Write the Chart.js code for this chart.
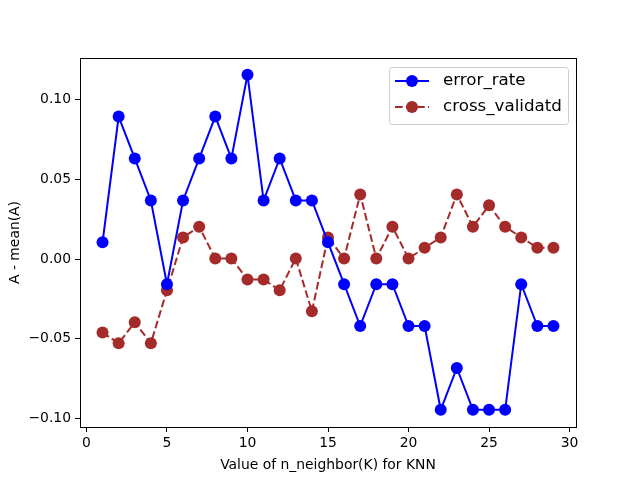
<!DOCTYPE html>
<html>
<head>
<meta charset="utf-8">
<script src="https://cdn.jsdelivr.net/npm/chart.js@4/dist/chart.umd.min.js"></script>
<style>
html,body{margin:0;padding:0;background:#fff;}
canvas{display:block;}
</style>
</head>
<body>
<canvas id="c" width="640" height="480"></canvas>
<script>
const kValues = [1,2,3,4,5,6,7,8,9,10,11,12,13,14,15,16,17,18,19,20,21,22,23,24,25,26,27,28,29];
const errorRate = [0.0105,0.0895,0.0632,0.0368,-0.0158,0.0368,0.0632,0.0895,0.0632,0.1158,
  0.0368,0.0632,0.0368,0.0368,0.0105,-0.0158,-0.0421,-0.0158,-0.0158,-0.0421,
  -0.0421,-0.0947,-0.0684,-0.0947,-0.0947,-0.0947,-0.0158,-0.0421,-0.0421];
const crossValidated = [-0.0462,-0.0529,-0.0397,-0.0529,-0.0196,0.0136,0.0203,0.0004,0.0004,-0.0128,
  -0.0128,-0.0196,0.0004,-0.0328,0.0136,0.0004,0.0406,0.0004,0.0203,0.0004,
  0.0071,0.0136,0.0406,0.0203,0.0338,0.0203,0.0136,0.0071,0.0071];
const xTicks = [0,5,10,15,20,25,30];
const yTicks = [-0.10,-0.05,0.00,0.05,0.10];
const seriesNames = ['error_rate','cross_validatd'];

const FONT = 'DejaVu Sans';
const toPts = ys => kValues.map((k,i)=>({x:k,y:ys[i]}));

const frame = {
  id:'frame',
  afterDatasetsDraw(chart){
    const {ctx, chartArea:a} = chart;
    ctx.save();
    ctx.strokeStyle = '#000';
    ctx.lineWidth = 1;
    ctx.strokeRect(Math.round(a.left)+0.5, Math.round(a.top)+0.5, Math.round(a.right-a.left), Math.round(a.bottom-a.top));
    // legend
    const bx = 389.5, by = 67.5, bw = 179, bh = 57, r = 3;
    ctx.beginPath();
    ctx.moveTo(bx+r,by);
    ctx.lineTo(bx+bw-r,by); ctx.arcTo(bx+bw,by,bx+bw,by+r,r);
    ctx.lineTo(bx+bw,by+bh-r); ctx.arcTo(bx+bw,by+bh,bx+bw-r,by+bh,r);
    ctx.lineTo(bx+r,by+bh); ctx.arcTo(bx,by+bh,bx,by+bh-r,r);
    ctx.lineTo(bx,by+r); ctx.arcTo(bx,by,bx+r,by,r);
    ctx.closePath();
    ctx.fillStyle = 'rgba(255,255,255,0.8)';
    ctx.fill();
    ctx.strokeStyle = '#cccccc';
    ctx.stroke();
    const rows = [81, 107];
    chart.data.datasets.forEach((ds,i)=>{
      const y = rows[i];
      ctx.strokeStyle = ds.borderColor;
      ctx.lineWidth = 2;
      ctx.setLineDash(ds.borderDash || []);
      ctx.beginPath(); ctx.moveTo(395,y); ctx.lineTo(429,y); ctx.stroke();
      ctx.setLineDash([]);
      ctx.fillStyle = ds.pointBackgroundColor;
      ctx.beginPath(); ctx.arc(412,y,ds.pointRadius,0,Math.PI*2); ctx.fill();
      ctx.fillStyle = '#000';
      ctx.font = '16.7px "' + FONT + '"';
      ctx.textBaseline = 'middle';
      ctx.textAlign = 'left';
      ctx.fillText(ds.label, 443, y);
    });
    ctx.restore();
  }
};

new Chart(document.getElementById('c'), {
  type:'line',
  data:{
    datasets:[
      {label:seriesNames[0], data:toPts(errorRate), borderColor:'#0000ff', backgroundColor:'#0000ff',
       pointBackgroundColor:'#0000ff', pointBorderColor:'#0000ff', pointRadius:6, pointBorderWidth:0,
       borderWidth:2, tension:0, fill:false},
      {label:seriesNames[1], data:toPts(crossValidated), borderColor:'#a52a2a', backgroundColor:'#a52a2a',
       pointBackgroundColor:'#a52a2a', pointBorderColor:'#a52a2a', pointRadius:6, pointBorderWidth:0,
       borderWidth:2, borderDash:[7.7,3.3], tension:0, fill:false}
    ]
  },
  options:{
    responsive:false, animation:false, devicePixelRatio:1,
    layout:{padding:{left:0,right:64,top:58,bottom:0}},
    plugins:{legend:{display:false}, tooltip:{enabled:false}},
    scales:{
      x:{type:'linear', min:-0.4, max:30.4,
        afterBuildTicks(s){ s.ticks = xTicks.map(v=>({value:v})); },
        afterFit(s){ s.height = 53; },
        grid:{display:true, drawOnChartArea:false, drawTicks:true, tickLength:5, tickColor:'#000', color:'#000'},
        border:{display:false},
        ticks:{color:'#000', font:{family:FONT,size:13.9}, padding:3, maxRotation:0,
          callback:v=>String(v)},
        title:{display:true, text:'Value of n_neighbor(K) for KNN', color:'#000', font:{family:FONT,size:13.9}, padding:{top:4,bottom:6}}
      },
      y:{type:'linear', min:-0.1055, max:0.1263,
        afterBuildTicks(s){ s.ticks = yTicks.map(v=>({value:v})); },
        afterFit(s){ s.width = 80; },
        grid:{display:true, drawOnChartArea:false, drawTicks:true, tickLength:5, tickColor:'#000', color:'#000'},
        border:{display:false},
        ticks:{color:'#000', font:{family:FONT,size:13.9}, padding:4,
          callback:v=>{ const s = Math.abs(v).toFixed(2); return (v < -1e-9 ? '\u2212' : '') + s; }},
        title:{display:true, text:'A - mean(A)', color:'#000', font:{family:FONT,size:13.9}, padding:{top:7,bottom:4}}
      }
    }
  },
  plugins:[frame]
});
</script>
</body>
</html>
